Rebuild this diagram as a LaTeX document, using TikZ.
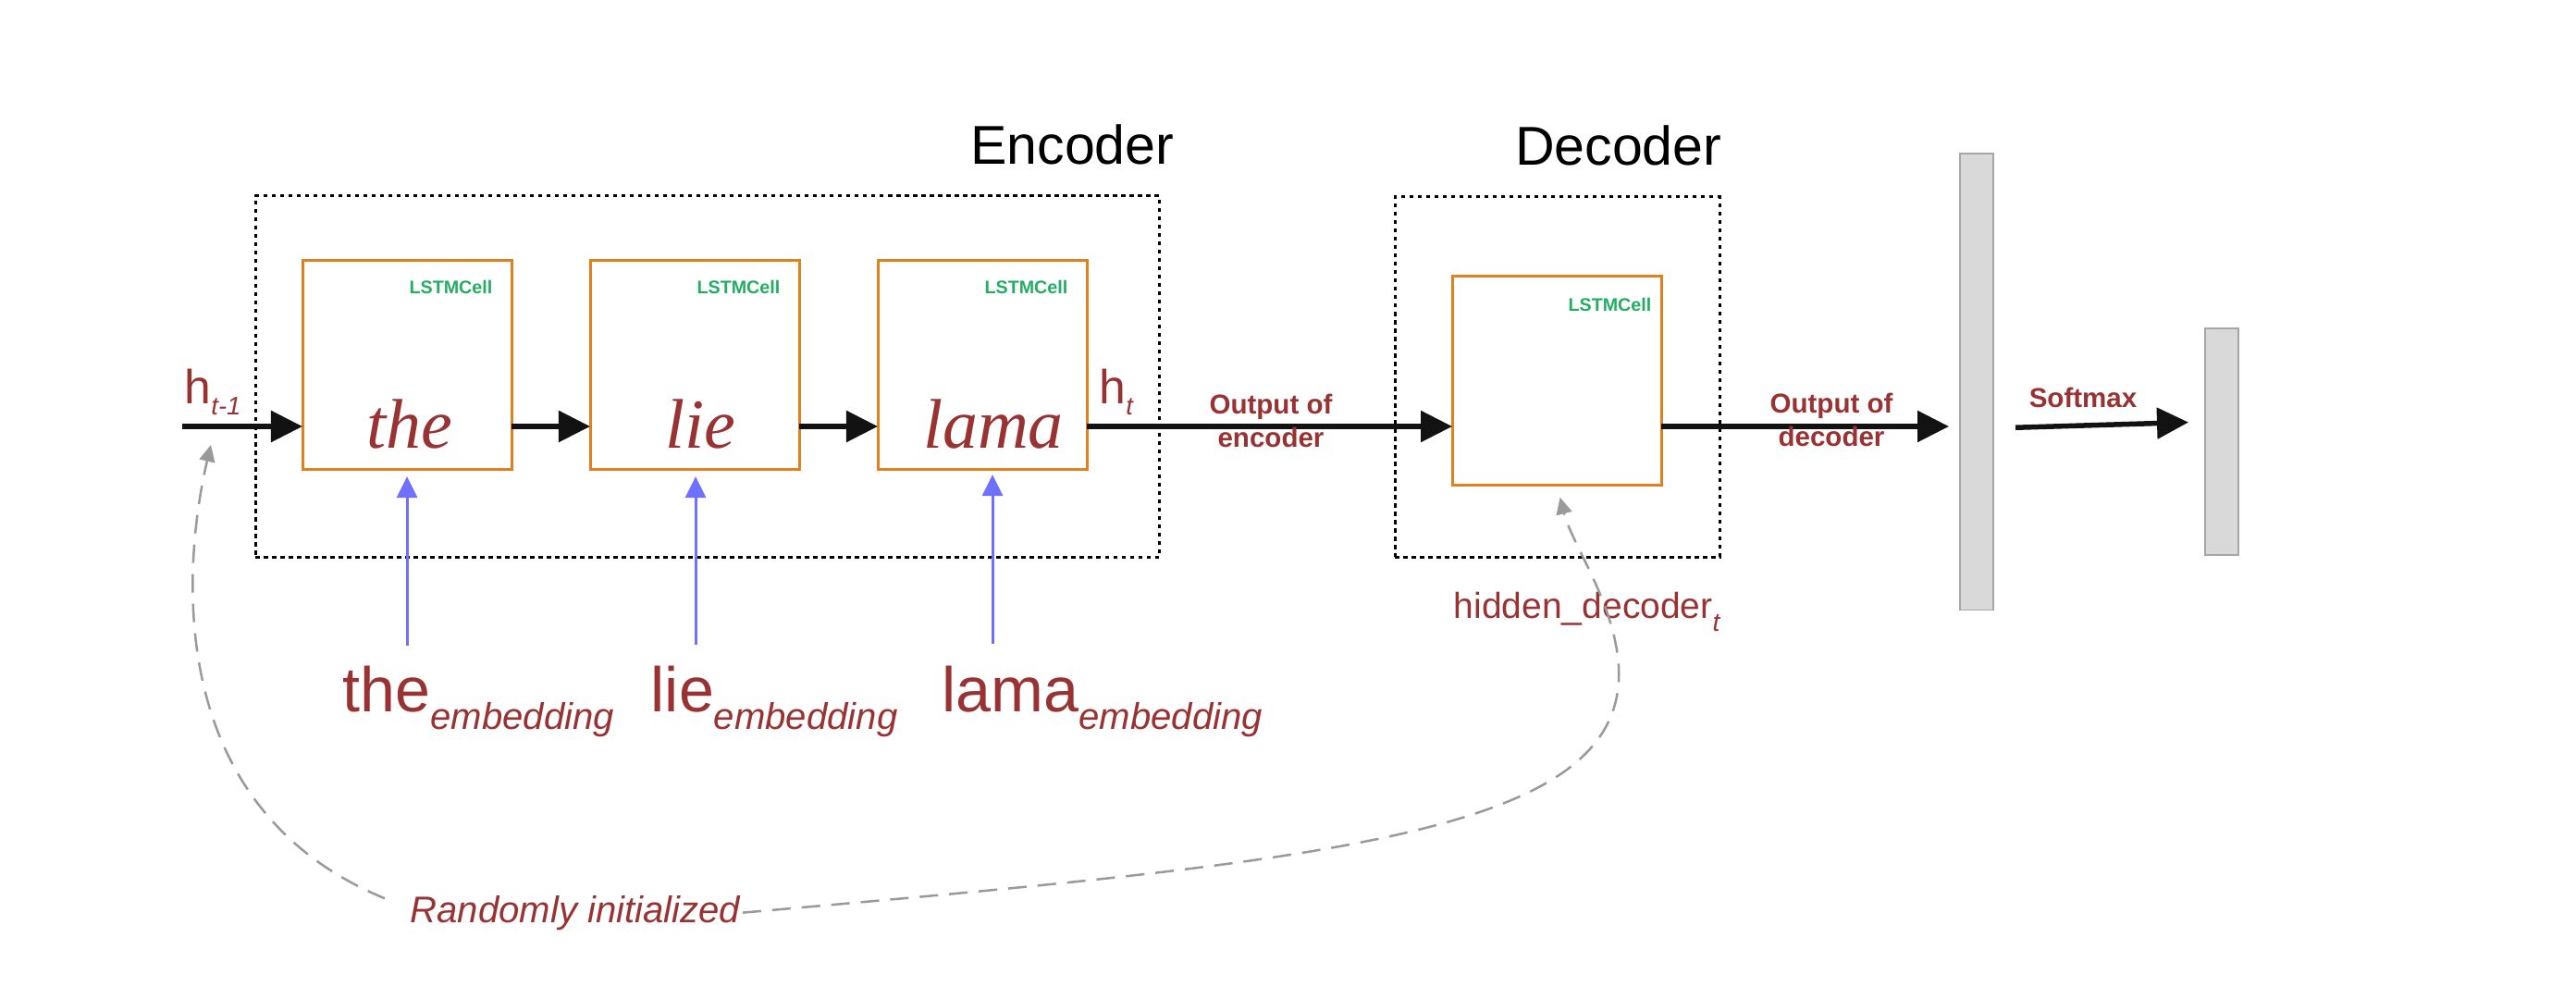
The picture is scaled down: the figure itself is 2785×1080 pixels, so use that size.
\documentclass[tikz,border=0pt]{standalone}
\usepackage{fontspec}
\setmainfont{Liberation Sans}
\newfontfamily\cellfont{Liberation Serif}
\usetikzlibrary{arrows.meta}
\definecolor{dred}{HTML}{993333}
\definecolor{lgreen}{HTML}{22AE62}
\definecolor{orng}{HTML}{E0801E}
\definecolor{bluar}{HTML}{7070FF}
\definecolor{dgray}{HTML}{9A9A9A}
\definecolor{barfill}{HTML}{D9D9D9}
\definecolor{bardraw}{HTML}{A6A6A6}
\begin{document}
\begin{tikzpicture}[x=0.01cm,y=-0.01cm,
  cell/.style={draw=orng,line width=0.03cm,inner sep=0pt,outer sep=0pt,
    minimum width=2.26cm,minimum height=2.25cm,anchor=north west},
  groupbox/.style={draw=black,line width=0.03cm,dash pattern=on 0.045cm off 0.045cm,
    inner sep=0pt,outer sep=0pt,anchor=north west},
  bar/.style={draw=bardraw,fill=barfill,line width=0.015cm,inner sep=0pt,outer sep=0pt,
    minimum width=0.36cm,anchor=north west},
  bigarr/.style={draw=black!93,line width=0.055cm,-{Triangle[length=0.34cm,width=0.33cm]}},
  bluarr/.style={draw=bluar,line width=0.03cm,-{Triangle[length=0.23cm,width=0.22cm]}},
  gdash/.style={draw=dgray,line width=0.025cm,dash pattern=on 0.2cm off 0.12cm,
    -{Triangle[length=0.18cm,width=0.17cm]}},
  lstm/.style={text=lgreen,font=\fontsize{5.6pt}{6.5pt}\selectfont\bfseries,inner sep=0pt,anchor=base east},
  cellword/.style={text=dred,font=\fontsize{21.6pt}{24pt}\selectfont\cellfont\itshape,inner sep=0pt,anchor=base},
  title/.style={text=black,font=\fontsize{16.8pt}{20pt}\selectfont,inner sep=0pt,anchor=base east},
  emb/.style={text=dred,font=\fontsize{19.4pt}{22pt}\selectfont,inner sep=0pt,anchor=base west},
  outlab/.style={text=dred,font=\fontsize{8.4pt}{10pt}\selectfont\bfseries,align=center,inner sep=0pt},
  hlab/.style={text=dred,font=\fontsize{14.7pt}{17pt}\selectfont,inner sep=0pt,anchor=base west},
]
\fill[white] (0,0) rectangle (2785,1080);
\useasboundingbox (0,0) rectangle (2785,1080);

% group boxes
\node[groupbox,minimum width=9.77cm,minimum height=3.90cm] (enc) at (276,212) {};
\node[groupbox,minimum width=3.51cm,minimum height=3.89cm] (dec) at (1508,213) {};
\node[title] (enct) at (1270,178) {Encoder};
\node[title] (dect) at (1862,179) {Decoder};

% cells
\node[cell] (c1) at (327,282) {};
\node[cell] (c2) at (638,282) {};
\node[cell] (c3) at (949,282) {};
\node[cell] (dc) at (1570,299) {};
\node[lstm] (l1) at (533,318) {LSTMCell};
\node[lstm] (l2) at (844,318) {LSTMCell};
\node[lstm] (l3) at (1155,318) {LSTMCell};
\node[lstm] (l4) at (1786,337) {LSTMCell};
\node[cellword] (w1) at (443,485) {the};
\node[cellword] (w2) at (757,485) {lie};
\node[cellword] (w3) at (1074,485) {lama};

% bars
\node[bar,minimum height=4.93cm] (b1) at (2119,166) {};
\node[bar,minimum height=2.45cm] (b2) at (2384,355) {};

% hidden state labels
\node[hlab] (hprev) at (199,437) {h\raisebox{-0.12cm}{\fontsize{7.8pt}{9pt}\selectfont\itshape t-1}};
\node[hlab] (hcur) at (1188,437) {h\raisebox{-0.12cm}{\fontsize{7.8pt}{9pt}\selectfont\itshape t}};

% main arrows
\coordinate (hin) at (197,461);
\draw[bigarr] (hin) -- (hin -| c1.west);
\draw[bigarr] (c1.east |- hin) -- (c2.west |- hin);
\draw[bigarr] (c2.east |- hin) -- (c3.west |- hin);
\draw[bigarr] (c3.east |- hin) -- (dc.west |- hin);
\draw[bigarr,shorten >=0.12cm] (dc.east |- hin) -- (b1.west |- hin);
\draw[bigarr,shorten <=0.24cm,shorten >=0.18cm] (b1.east |- 0,463) -- (b2.west |- 0,456);

\node[outlab] (oenc) at (1374,455) {Output of\\encoder};
\node[outlab] (odec) at (1980,454) {Output of\\decoder};
\node[outlab,anchor=base] (smx) at (2252,441) {Softmax};

% embeddings
\node[emb] (e1) at (370,770) {the\raisebox{-0.18cm}{\fontsize{11.4pt}{13pt}\selectfont\itshape embedding}};
\node[emb] (e2) at (703,770) {lie\raisebox{-0.18cm}{\fontsize{11.4pt}{13pt}\selectfont\itshape embedding}};
\node[emb] (e3) at (1018,770) {lama\raisebox{-0.18cm}{\fontsize{11.4pt}{13pt}\selectfont\itshape embedding}};
\draw[bluarr,shorten >=0.08cm] (c1.south |- 0,698) -- (c1.south);
\draw[bluarr,shorten >=0.08cm] ([xshift=0.01cm]c2.south |- 0,697) -- ([xshift=0.01cm]c2.south);
\draw[bluarr,shorten >=0.06cm] ([xshift=0.11cm]c3.south |- 0,696) -- ([xshift=0.11cm]c3.south);

% hidden decoder and random init
\node[text=dred,font=\fontsize{11.1pt}{13pt}\selectfont,inner sep=0pt,anchor=base west] (hdec) at (1571,669)
  {hidden\_decoder\raisebox{-0.13cm}{\fontsize{8pt}{9pt}\selectfont\itshape t}};
\node[text=dred,font=\fontsize{11.4pt}{13pt}\selectfont\itshape,inner sep=0pt,anchor=base west] (rand) at (443,997)
  {Randomly initialized};
\coordinate (initL) at (228,481);
\draw[gdash] ([xshift=-0.27cm,yshift=-0.04cm]rand.north west) .. controls (170,870) and (200,600) .. (initL);
\draw[gdash,shorten >=0.14cm] ([xshift=0.02cm]rand.east) .. controls (1450,930) and (1760,900) .. (1750,720)
  .. controls (1745,650) and (1700,590) .. (dc.south);
\end{tikzpicture}
\end{document}
